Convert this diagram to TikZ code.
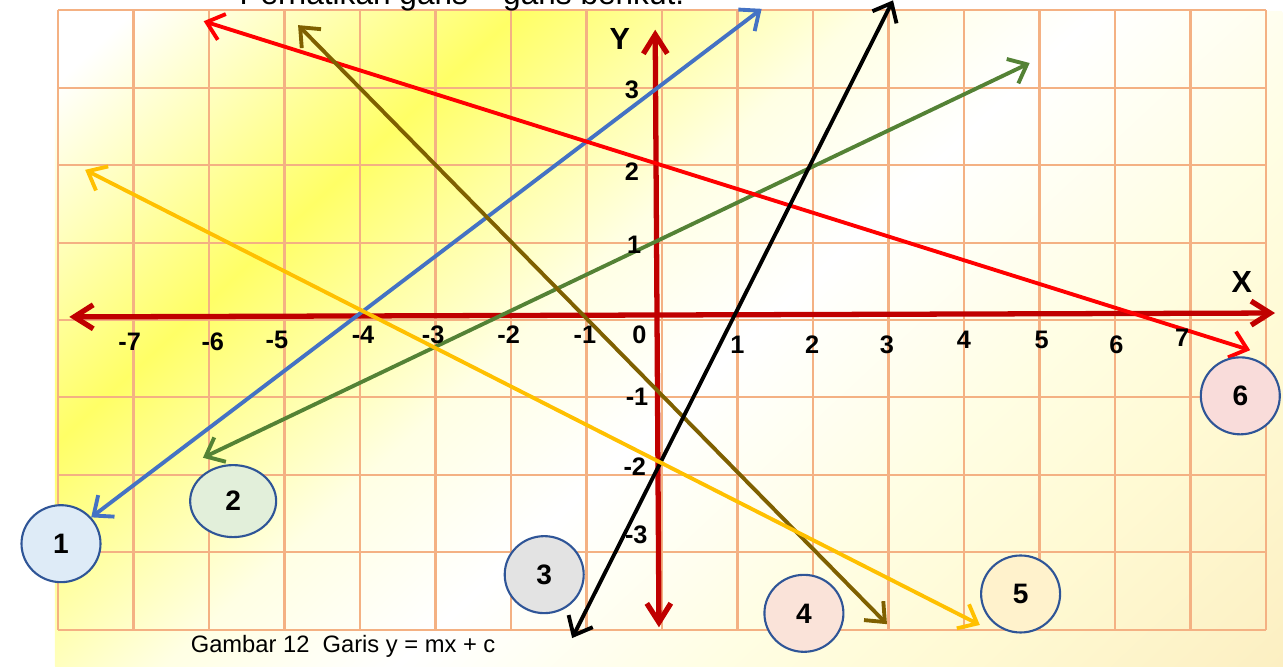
\documentclass[tikz,border=0pt]{standalone}
\usepackage{fontspec}
\setmainfont{Liberation Sans}
\usetikzlibrary{arrows.meta,shapes.geometric}
\definecolor{kisi}{HTML}{F4B183}
\definecolor{sumbu}{HTML}{C00000}
\definecolor{biru}{HTML}{4472C4}
\definecolor{hijau}{HTML}{548235}
\definecolor{merah}{HTML}{FF0000}
\definecolor{coklat}{HTML}{7F6000}
\definecolor{oranye}{HTML}{FFC000}
\definecolor{tepi}{HTML}{2F5597}
\definecolor{isisatu}{HTML}{DEEBF7}
\definecolor{isidua}{HTML}{E2EFDA}
\definecolor{isitiga}{HTML}{E3E3E3}
\definecolor{isiempat}{HTML}{FAE3D9}
\definecolor{isilima}{HTML}{FFF2CC}
\definecolor{isienam}{HTML}{F9DCDA}
\definecolor{kuning}{HTML}{FFFF66}
\definecolor{kuningmuda}{HTML}{FFFFB4}
\definecolor{kuningpucat}{HTML}{FFFFA0}
\definecolor{kremsatu}{HTML}{FFFFE4}
\definecolor{kremdua}{HTML}{FFFEE4}
\definecolor{kremtiga}{HTML}{FFFAD4}
\definecolor{krempat}{HTML}{FCEFC2}
\pgfdeclarehorizontalshading{latarkuning}{100bp}{color(0bp)=(white); color(27bp)=(white); color(32bp)=(kuningmuda); color(37bp)=(kuning); color(41bp)=(kuningpucat); color(46bp)=(kremsatu); color(52bp)=(white); color(60bp)=(kremdua); color(66bp)=(kremtiga); color(75bp)=(krempat); color(100bp)=(krempat)}
\begin{document}
\begin{tikzpicture}[x=0.755cm,y=0.774cm,
  kisigaris/.style={draw=kisi,line width=0.6pt},
  sumbugaris/.style={draw=sumbu,line width=1.5pt,>={Straight Barb[length=1.9mm,width=2.4mm]},<->},
  garis/.style={line width=1.1pt,>={Straight Barb[length=1.6mm,width=2.7mm]},<->},
  angka/.style={font=\fontsize{7.2}{8}\selectfont\bfseries},
  huruf/.style={font=\fontsize{8.7}{9}\selectfont\bfseries},
  nomor/.style={ellipse,draw=tepi,line width=0.6pt,inner sep=0pt,minimum width=0.79cm,minimum height=0.77cm,font=\fontsize{8}{9}\selectfont\bfseries}]
			\path[use as bounding box] (-6.62cm,-3.47cm) rectangle (6.24cm,3.20cm);
			\clip (-6.62cm,-3.47cm) rectangle (6.24cm,3.20cm);
			\fill[white] (-6.62cm,-3.47cm) rectangle (6.24cm,3.20cm);
			\begin{scope}
			\clip (-6.07cm,-3.47cm) rectangle (6.21cm,3.08cm);
			\shade[shading=latarkuning,transform canvas={shift={(0.07cm,-0.195cm)},rotate=-47}] (-6.58cm,-6.72cm) rectangle (6.58cm,6.72cm);
			\end{scope}
			\draw[kisigaris] (-8,-4) grid[step={(1,1)}] (8,4);
			\node[anchor=base,font=\fontsize{9}{10}\selectfont] (judul) at (-2.65,4.07) {Perhatikan garis – garis berikut.};
			\draw[sumbugaris] (-7.85,0.04) -- (8.12,0.09);
			\draw[sumbugaris] (-0.09,3.75) -- (-0.04,-3.97);
			\draw[garis,biru] (-7.56,-2.55) -- (1.32,4.02);
			\draw[garis,hijau] (-6.08,-1.78) -- (4.87,3.32);
			\draw[garis,merah] (-6.07,3.86) -- (7.79,-0.39);
			\draw[garis,coklat] (-4.82,3.81) -- (2.98,-3.93);
			\draw[garis,black] (3.06,4.13) -- (-1.19,-4.11);
			\draw[garis,oranye] (-7.64,1.94) -- (4.21,-3.94);
			\node[huruf] (labx) at (7.68,0.49) {X};
			\node[huruf] (laby) at (-0.56,3.63) {Y};
			\node[angka] (xm7) at (-7.05,-0.28) {-7};
			\node[angka] (xm6) at (-5.95,-0.28) {-6};
			\node[angka] (xm5) at (-5.10,-0.26) {-5};
			\node[angka] (xm4) at (-3.96,-0.19) {-4};
			\node[angka] (xm3) at (-3.03,-0.19) {-3};
			\node[angka] (xm2) at (-2.03,-0.19) {-2};
			\node[angka] (xm1) at (-1.02,-0.19) {-1};
			\node[angka] (nol) at (-0.30,-0.19) {0};
			\node[angka] (xp1) at (1.00,-0.32) {1};
			\node[angka] (xp2) at (1.99,-0.32) {2};
			\node[angka] (xp3) at (2.98,-0.32) {3};
			\node[angka] (xp4) at (4.00,-0.26) {4};
			\node[angka] (xp5) at (5.03,-0.26) {5};
			\node[angka] (xp6) at (6.02,-0.32) {6};
			\node[angka] (xp7) at (6.89,-0.23) {7};
			\node[angka] (yp3) at (-0.40,2.97) {3};
			\node[angka] (yp2) at (-0.40,1.91) {2};
			\node[angka] (yp1) at (-0.37,0.97) {1};
			\node[angka] (ym1) at (-0.33,-0.99) {-1};
			\node[angka] (ym2) at (-0.36,-1.89) {-2};
			\node[angka] (ym3) at (-0.34,-2.78) {-3};
			\node[nomor,fill=isisatu] (n1) at (-7.96,-2.89) {1};
			\node[nomor,fill=isidua,minimum width=0.86cm,minimum height=0.72cm] (n2) at (-5.68,-2.34) {2};
			\node[nomor,fill=isitiga] (n3) at (-1.56,-3.29) {3};
			\node[nomor,fill=isiempat] (n4) at (1.88,-3.79) {4};
			\node[nomor,fill=isilima] (n5) at (4.75,-3.54) {5};
			\node[nomor,fill=isienam] (n6) at (7.66,-0.98) {6};
			\node[anchor=base west,inner sep=0pt,font=\fontsize{6.75}{7}\selectfont] (keterangan) at (-6.25,-4.30) {Gambar 12\ \ Garis y = mx + c};
		\end{tikzpicture}
\end{document}
